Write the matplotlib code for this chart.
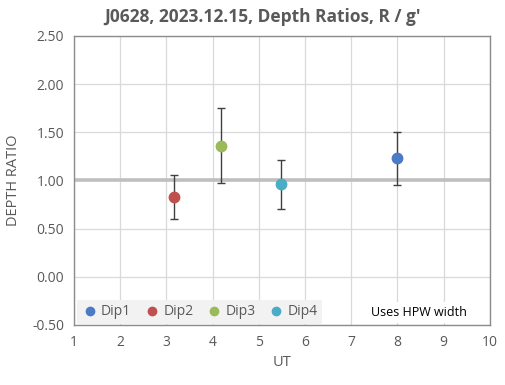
import matplotlib.pyplot as plt
from matplotlib.lines import Line2D

plt.rcParams['font.family'] = ['Open Sans', 'DejaVu Sans']

names = ["Dip1", "Dip2", "Dip3", "Dip4"]
ut = [8.0, 3.16, 4.19, 5.47]
ratio = [1.23, 0.83, 1.36, 0.96]
err_hi = [1.50, 1.06, 1.75, 1.21]
err_lo = [0.95, 0.60, 0.97, 0.70]
colors = ["#4a7bc4", "#c0504d", "#9bbb59", "#4bacc6"]

GREY = "#595959"

fig = plt.figure(figsize=(5.05, 3.85), dpi=100)
ax = fig.add_axes([0.1465, 0.156, 0.8235, 0.7505])

ax.axhline(1.0, color="#bfbfbf", lw=2.6, zorder=1)
for x, y, hi, lo, c in zip(ut, ratio, err_hi, err_lo, colors):
    ax.errorbar([x], [y], yerr=[[y - lo], [hi - y]], fmt="none",
                ecolor="#404040", elinewidth=1.0, capsize=3, capthick=1.0, zorder=3)
    ax.plot([x], [y], "o", ms=7.5, color=c, zorder=4)

ax.set_xlim(1, 10)
ax.set_ylim(-0.5, 2.5)
ax.set_xticks(range(1, 11))
yt = [-0.5, 0, 0.5, 1.0, 1.5, 2.0, 2.5]
ax.set_yticks(yt)
ax.set_yticklabels([f"{v:.2f}" for v in yt])
ax.grid(True, color="#d9d9d9", lw=0.9, zorder=0)
ax.set_axisbelow(True)
for s in ax.spines.values():
    s.set_color("#8c8c8c")
    s.set_linewidth(1.0)
ax.tick_params(length=0, colors=GREY, labelsize=10, pad=7)

ax.set_xlabel("UT", color=GREY, fontsize=10.5, labelpad=4)
ax.set_ylabel("DEPTH RATIO", color=GREY, fontsize=10.5, labelpad=8)
fig.text(0.519, 0.957, "J0628, 2023.12.15, Depth Ratios, R / g'",
         ha="center", va="center", fontsize=12.5, fontweight="bold", color=GREY)

handles = [Line2D([], [], marker="o", ls="none", ms=6, color=c) for c in colors]
leg = ax.legend(handles, names, loc="lower left", ncol=4, frameon=True,
                fontsize=10, handletextpad=0.2, columnspacing=0.9,
                borderaxespad=0.1, bbox_to_anchor=(0.005, 0.0),
                borderpad=0.3, handlelength=1.2)
leg.get_frame().set_facecolor("#f2f2f2")
leg.get_frame().set_edgecolor("none")
leg.get_frame().set_alpha(1)
leg.get_frame().set_boxstyle("square", pad=0)
for t in leg.get_texts():
    t.set_color(GREY)

ax.text(8.47, -0.37, "Uses HPW width", ha="center", va="center",
        fontsize=9, color="black",
        bbox=dict(facecolor="white", edgecolor="none", pad=3))

fig.savefig("out.png", dpi=100)
